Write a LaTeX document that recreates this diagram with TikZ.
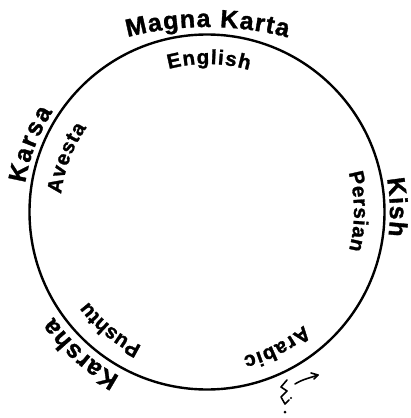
\documentclass[tikz,border=0pt]{standalone}
\usepackage{fontspec}
\setmainfont{Liberation Sans}[BoldFeatures={FakeBold=1.3}]
\usetikzlibrary{decorations.text}
\newcommand\outerf{\fontsize{25}{25}\selectfont\bfseries}
\newcommand\innerf{\fontsize{20.5}{20.5}\selectfont\bfseries}
% #1 centre, #2 radius, #3 start angle, #4 end angle, #5 font, #6 text
\newcommand\arclabel[6]{%
  \path[decorate,decoration={text along path,text={|#5|#6},text align={fit to path}}]
    (#1) ++(#3:#2) arc[start angle=#3,end angle=#4,radius=#2];}
\begin{document}
\begin{tikzpicture}[x=1pt,y=1pt,
  ring/.style={line width=2.4pt,draw=black},
  scribble/.style={line width=1.6pt,line cap=round,line join=round}]
\useasboundingbox (-207,-206) rectangle (203,212);
\coordinate (c) at (0,0);
\coordinate (mk) at (0,-132);
\draw[ring] (c) circle[radius=177.5];
% outer labels
\arclabel{mk}{317}{104.5}{75.3}{\outerf}{Magna Karta}
\arclabel{c}{184}{171}{147}{\outerf}{Karsa}
\arclabel{c}{183}{10.5}{-7.5}{\outerf}{Kish}
\arclabel{c}{186}{-118}{-145.5}{\outerf}{Karsha}
% inner labels
\arclabel{c}{148}{105}{73.5}{\innerf}{English}
\arclabel{c}{147}{173}{145}{\innerf}{Avesta}
\arclabel{c}{147}{15.5}{-15}{\innerf}{Persian}
\arclabel{c}{149}{-116}{-143}{\innerf}{Pushtu}
\arclabel{c}{149}{-49.5}{-76}{\innerf}{Arabic}
% handwritten mark
\draw[scribble] (88,-172) .. controls (96,-167) and (103,-166) .. (111,-163);
\draw[scribble] (104,-161) -- (111,-163) -- (107,-167);
\draw[scribble] (80,-168) -- (74,-175) -- (80,-179) -- (74,-185) -- (78,-192) -- (82,-188);
\fill (78,-200) circle[radius=1.5];
\fill (84,-186) circle[radius=1.1];
\end{tikzpicture}
\end{document}
